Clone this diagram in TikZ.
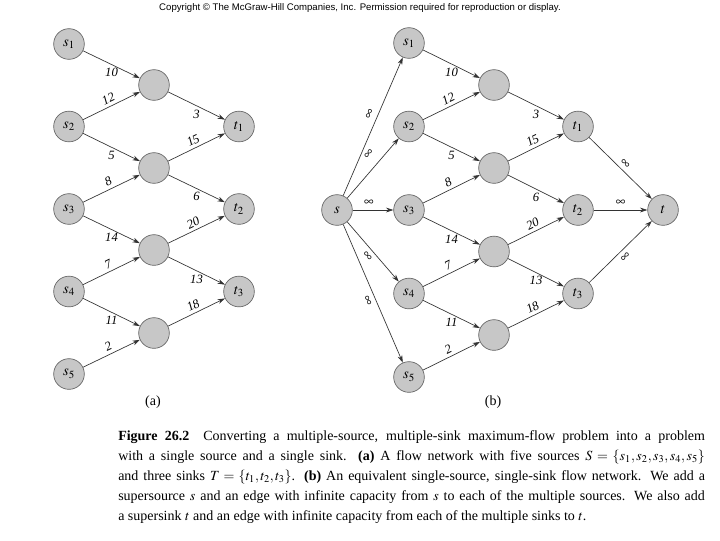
\documentclass[tikz,border=0pt]{standalone}
\usepackage{mathptmx}
\usepackage{fontspec}
\setmainfont{Liberation Serif}
\newfontfamily\copyfont{Liberation Sans}
\usetikzlibrary{arrows.meta}

\begin{document}
\begin{tikzpicture}[x=0.75pt, y=-0.75pt,
    vertex/.style={circle, draw=black!60, fill=black!22, line width=0.5pt, minimum size=23pt, inner sep=0pt, font=\fontsize{11}{12}\selectfont},
    edge/.style={-{Stealth[length=5.5pt,width=3.6pt]}, draw=black!80, line width=0.5pt},
    flow/.style={font=\fontsize{9.5}{10}\selectfont\itshape, inner sep=0.8pt},
    infty/.style={font=\fontsize{10}{10}\selectfont, inner sep=0.8pt}]
    % page
    \fill[white] (0,0) rectangle (720,540);
    \useasboundingbox (0,0) rectangle (720,540);

    % Copyright line (top)
    \node[font=\copyfont\fontsize{7.2}{8}\selectfont] (copy) at (360,8) {Copyright \textcopyright{} The McGraw-Hill Companies, Inc. Permission required for reproduction or display.};

    % (a) Sources
    \node[vertex] (as1) at (69,44) {$s_1$};
    \node[vertex] (as2) at (69,126.5) {$s_2$};
    \node[vertex] (as3) at (69,209) {$s_3$};
    \node[vertex] (as4) at (69,291.5) {$s_4$};
    \node[vertex] (as5) at (69,374) {$s_5$};

    % (a) Middle vertices
    \node[vertex] (am1) at (154,85) {};
    \node[vertex] (am2) at (154,168) {};
    \node[vertex] (am3) at (154,250) {};
    \node[vertex] (am4) at (154,333) {};

    % (a) Sinks
    \node[vertex] (at1) at (239,126.5) {$t_1$};
    \node[vertex] (at2) at (239,209) {$t_2$};
    \node[vertex] (at3) at (239,291.5) {$t_3$};

    % (a) Edges
    \draw[edge] (as1) -- node[flow, below=2pt] {10} (am1);
    \draw[edge] (as2) -- node[flow, above=1.5pt, sloped] {12} (am1);
    \draw[edge] (as2) -- node[flow, below=2pt] {5} (am2);
    \draw[edge] (as3) -- node[flow, above=1.5pt, sloped] {8} (am2);
    \draw[edge] (as3) -- node[flow, below=2pt] {14} (am3);
    \draw[edge] (as4) -- node[flow, above=1.5pt, sloped] {7} (am3);
    \draw[edge] (as4) -- node[flow, below=2pt] {11} (am4);
    \draw[edge] (as5) -- node[flow, above=1.5pt, sloped] {2} (am4);
    \draw[edge] (am1) -- node[flow, below=2pt] {3} (at1);
    \draw[edge] (am2) -- node[flow, above=1.5pt, sloped] {15} (at1);
    \draw[edge] (am2) -- node[flow, below=2pt] {6} (at2);
    \draw[edge] (am3) -- node[flow, above=1.5pt, sloped] {20} (at2);
    \draw[edge] (am3) -- node[flow, below=2pt] {13} (at3);
    \draw[edge] (am4) -- node[flow, above=1.5pt, sloped] {18} (at3);

    \node[font=\fontsize{10.5}{12}\selectfont] (lbla) at (153,402) {(a)};

    % (b) Supersource and supersink
    \node[vertex] (bs) at (337,210) {$s$};
    \node[vertex] (bt) at (663,210) {$t$};

    % (b) Sources
    \node[vertex] (bs1) at (409,43) {$s_1$};
    \node[vertex] (bs2) at (409,126.5) {$s_2$};
    \node[vertex] (bs3) at (409,210) {$s_3$};
    \node[vertex] (bs4) at (409,293.5) {$s_4$};
    \node[vertex] (bs5) at (409,377) {$s_5$};

    % (b) Middle vertices
    \node[vertex] (bm1) at (494,85) {};
    \node[vertex] (bm2) at (494,168) {};
    \node[vertex] (bm3) at (494,251.5) {};
    \node[vertex] (bm4) at (494,335) {};

    % (b) Sinks
    \node[vertex] (bt1) at (578,126.5) {$t_1$};
    \node[vertex] (bt2) at (578,210) {$t_2$};
    \node[vertex] (bt3) at (578,293.5) {$t_3$};

    % (b) Supersource to sources
    \draw[edge] (bs) -- node[infty, above=3pt, sloped, pos=0.57] {$\infty$} (bs1);
    \draw[edge] (bs) -- node[infty, above=6pt, sloped, pos=0.6] {$\infty$} (bs2);
    \draw[edge] (bs) -- node[infty, above=2pt, pos=0.4] {$\infty$} (bs3);
    \draw[edge] (bs) -- node[infty, below=2.5pt, sloped] {$\infty$} (bs4);
    \draw[edge] (bs) -- node[infty, below=3pt, sloped, pos=0.53] {$\infty$} (bs5);

    % (b) Edges
    \draw[edge] (bs1) -- node[flow, below=2pt] {10} (bm1);
    \draw[edge] (bs2) -- node[flow, above=1.5pt, sloped] {12} (bm1);
    \draw[edge] (bs2) -- node[flow, below=2pt] {5} (bm2);
    \draw[edge] (bs3) -- node[flow, above=1.5pt, sloped] {8} (bm2);
    \draw[edge] (bs3) -- node[flow, below=2pt] {14} (bm3);
    \draw[edge] (bs4) -- node[flow, above=1.5pt, sloped] {7} (bm3);
    \draw[edge] (bs4) -- node[flow, below=2pt] {11} (bm4);
    \draw[edge] (bs5) -- node[flow, above=1.5pt, sloped] {2} (bm4);
    \draw[edge] (bm1) -- node[flow, below=2pt] {3} (bt1);
    \draw[edge] (bm2) -- node[flow, above=1.5pt, sloped] {15} (bt1);
    \draw[edge] (bm2) -- node[flow, below=2pt] {6} (bt2);
    \draw[edge] (bm3) -- node[flow, above=1.5pt, sloped] {20} (bt2);
    \draw[edge] (bm3) -- node[flow, below=2pt] {13} (bt3);
    \draw[edge] (bm4) -- node[flow, above=1.5pt, sloped] {18} (bt3);

    % (b) Sinks to supersink
    \draw[edge] (bt1) -- node[infty, above=1.5pt, sloped] {$\infty$} (bt);
    \draw[edge] (bt2) -- node[infty, above=2pt] {$\infty$} (bt);
    \draw[edge] (bt3) -- node[infty, below=2.5pt, sloped] {$\infty$} (bt);

    \node[font=\fontsize{10.5}{12}\selectfont] (lblb) at (493,402) {(b)};

    % Caption
    \node[anchor=north west, inner sep=0pt, text width=440pt, align=justify, font=\fontsize{10.5}{15}\selectfont] (caption) at (118,430) {\textbf{Figure 26.2}\quad Converting a multiple-source, multiple-sink maximum-flow problem into a problem\linebreak with a single source and a single sink. \textbf{(a)} A flow network with five sources $S=\{s_1,s_2,s_3,s_4,s_5\}$\linebreak and three sinks $T=\{t_1,t_2,t_3\}$. \textbf{(b)} An equivalent single-source, single-sink flow network. We add a\linebreak supersource $s$ and an edge with infinite capacity from $s$ to each of the multiple sources. We also add\linebreak a supersink $t$ and an edge with infinite capacity from each of the multiple sinks to $t$.};
\end{tikzpicture}
\end{document}
